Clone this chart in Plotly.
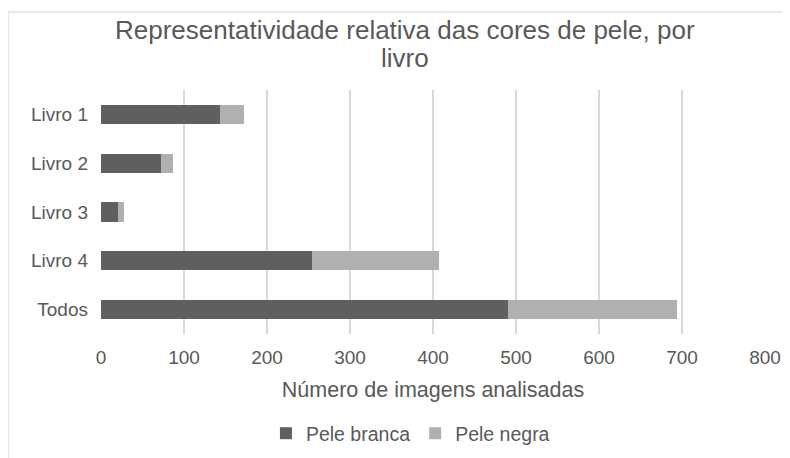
import plotly.graph_objects as go

categories = ["Livro 1", "Livro 2", "Livro 3", "Livro 4", "Todos"]
pele_branca = [143, 72, 21, 254, 490]
pele_negra = [29, 15, 7, 153, 204]
x_ticks = [0, 100, 200, 300, 400, 500, 600, 700, 800]
title_lines = ["Representatividade relativa das cores de pele, por", "livro"]

TXT = "#595959"
FONT = "Liberation Sans, Arial, sans-serif"

fig = go.Figure()
fig.add_trace(go.Bar(y=categories, x=pele_branca, name="Pele branca", orientation="h",
                     marker=dict(color="#5f5f5f", line=dict(width=0))))
fig.add_trace(go.Bar(y=categories, x=pele_negra, name="Pele negra", orientation="h",
                     marker=dict(color="#b0b0b0", line=dict(width=0))))

fig.update_layout(
    width=782, height=450,
    barmode="stack", bargap=0.61,
    paper_bgcolor="white", plot_bgcolor="white",
    margin=dict(l=93, r=25, t=82, b=124, autoexpand=False),
    font=dict(family=FONT, color=TXT, size=19),
    xaxis=dict(range=[0, 800], tickvals=x_ticks, showgrid=True, gridcolor="#d9d9d9",
               gridwidth=1.5, zeroline=False, showline=False, ticks="", automargin=False,
               tickfont=dict(size=19, color=TXT),
               ticklabelstandoff=10,
               title=dict(text="Número de imagens analisadas", font=dict(size=21.5, color=TXT), standoff=14)),
    yaxis=dict(categoryorder="array", categoryarray=categories, autorange="reversed",
               showgrid=False, zeroline=False, showline=False, ticks="", automargin=False,
               tickfont=dict(size=19, color=TXT), ticklabelstandoff=12),
    legend=dict(orientation="h", x=0.466, xanchor="center", y=-0.328, yanchor="top",
                font=dict(size=19.5, color=TXT), itemwidth=30, traceorder="normal"),
    annotations=[
        dict(text=title_lines[0], xref="paper", yref="paper", x=0.458, y=1.246,
             xanchor="center", yanchor="middle", showarrow=False,
             font=dict(size=26, color=TXT, family=FONT)),
        dict(text=title_lines[1], xref="paper", yref="paper", x=0.458, y=1.131,
             xanchor="center", yanchor="middle", showarrow=False,
             font=dict(size=26, color=TXT, family=FONT)),
    ],
    shapes=[
        dict(type="line", xref="paper", yref="paper", x0=-0.14, x1=1.1, y0=1.3197, y1=1.3197,
             line=dict(color="#e0e0e0", width=1.5)),
        dict(type="line", xref="paper", yref="paper", x0=-0.14, x1=-0.14, y0=1.3197, y1=-0.6,
             line=dict(color="#e0e0e0", width=1.5)),
    ],
)

fig.write_html("out.html")
